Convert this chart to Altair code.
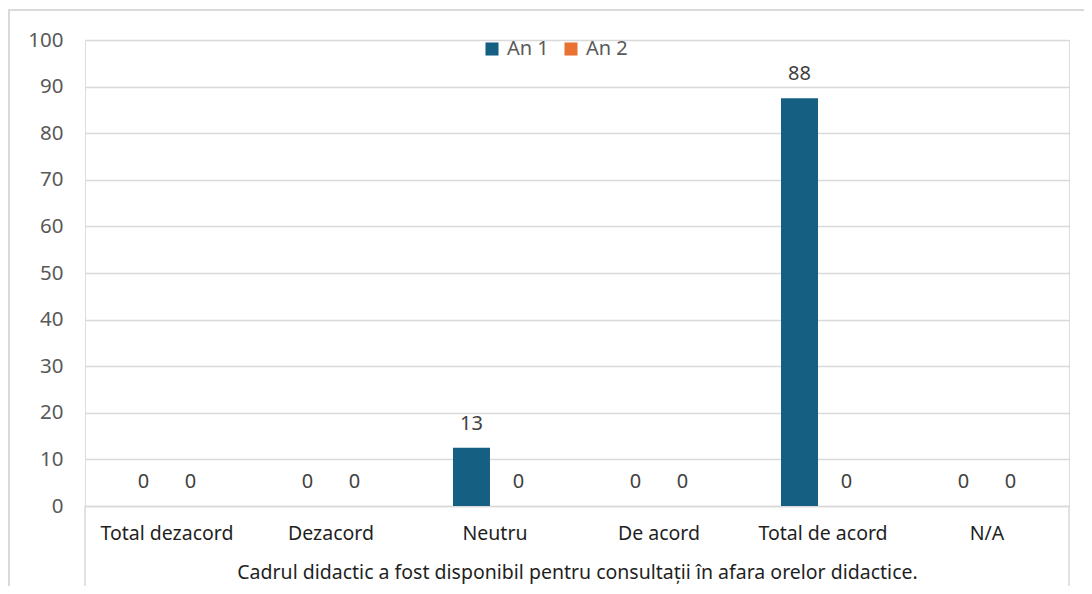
import altair as alt
import pandas as pd

categories = ["Total dezacord", "Dezacord", "Neutru", "De acord", "Total de acord", "N/A"]
series = ["An 1", "An 2"]
an1 = [0, 0, 12.5, 0, 87.5, 0]
an2 = [0, 0, 0, 0, 0, 0]
colors = ["#156082", "#e97132"]
group_title = "Cadrul didactic a fost disponibil pentru consultații în afara orelor didactice."
y_ticks = list(range(0, 101, 10))

rows = []
for c, v1, v2 in zip(categories, an1, an2):
    rows.append({"cat": c, "serie": series[0], "val": v1})
    rows.append({"cat": c, "serie": series[1], "val": v2})
df = pd.DataFrame(rows)

W, H = 984, 466
FONT = "Noto Sans"
GRID = "#d9d9d9"
FS = 19.5

x_enc = alt.X(
    "cat:N", sort=categories,
    scale=alt.Scale(paddingInner=0.427, paddingOuter=0.2134),
    axis=alt.Axis(
        title=group_title, labelAngle=0, labelFontSize=FS, labelColor="#1f1f1f",
        labelFont=FONT, labelPadding=18, ticks=False, domainColor=GRID, domainWidth=1.5,
        titleFont=FONT, titleFontSize=FS, titleFontWeight="normal", titleColor="#1f1f1f",
        titlePadding=21,
    ),
)
xoff = alt.XOffset("serie:N", sort=series,
                   scale=alt.Scale(paddingInner=0.213, paddingOuter=0.106))
y_enc = alt.Y(
    "val:Q", scale=alt.Scale(domain=[0, 100]),
    axis=alt.Axis(values=y_ticks, title=None, domain=False, ticks=False,
                  gridColor=GRID, gridWidth=1.5, labelFont=FONT, labelFontSize=20.5,
                  labelColor="#595959", labelPadding=22),
)

bars = alt.Chart(df).mark_bar().encode(
    x=x_enc, xOffset=xoff, y=y_enc,
    color=alt.Color("serie:N", sort=series,
                    scale=alt.Scale(domain=series, range=colors),
                    legend=alt.Legend(title=None, orient="none", direction="horizontal",
                                      legendX=397, legendY=-1, symbolType="square",
                                      symbolSize=170, symbolStrokeWidth=0,
                                      labelFont=FONT, labelFontSize=20,
                                      labelColor="#595959", columnPadding=12,
                                      labelOffset=5)),
)

texts = alt.Chart(df).mark_text(dy=-24, fontSize=20, font=FONT, color="#404040").encode(
    x=alt.X("cat:N", sort=categories), xOffset=xoff, y=alt.Y("val:Q"),
    text=alt.Text("val:Q", format=".0f"),
)

frame_df = pd.DataFrame({"k": [0]})
left_line = alt.Chart(frame_df).mark_rule(color=GRID, strokeWidth=1.5).encode(
    x=alt.value(0), y=alt.value(H), y2=alt.value(H + 90))
right_line = alt.Chart(frame_df).mark_rule(color=GRID, strokeWidth=1.5).encode(
    x=alt.value(W), y=alt.value(H), y2=alt.value(H + 90))
outer = alt.Chart(frame_df).mark_rect(fill=None, stroke=GRID, strokeWidth=2).encode(
    x=alt.value(-76), x2=alt.value(W + 40), y=alt.value(-30), y2=alt.value(H + 200))

chart = alt.layer(outer, bars, texts, left_line, right_line).properties(
    width=W, height=H,
    autosize=alt.AutoSizeParams(type="none"),
    padding={"left": 77, "top": 32, "right": 15, "bottom": 80},
).configure_view(stroke=None).configure(font=FONT)

chart.save("out.html", embed_options={"renderer": "svg", "actions": False})
